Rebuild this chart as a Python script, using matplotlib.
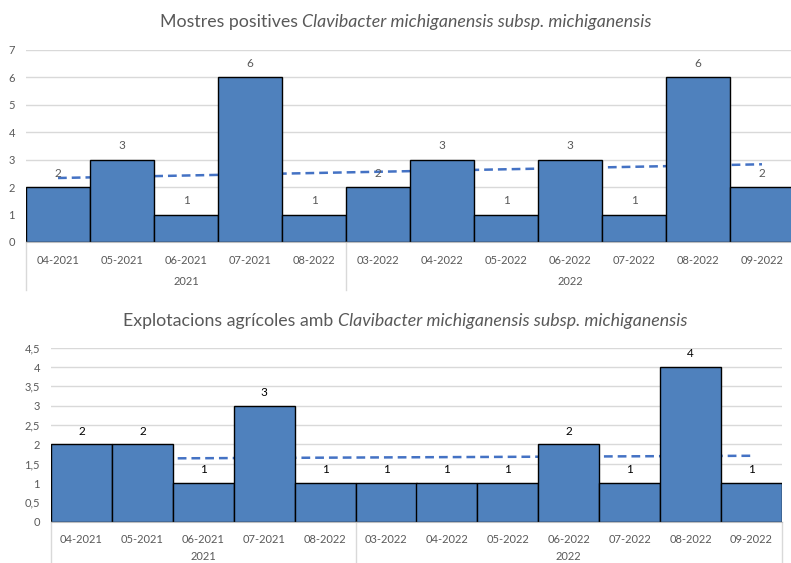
import matplotlib
matplotlib.use("Agg")
import matplotlib.pyplot as plt
import numpy as np

plt.rcParams['font.family'] = ['Lato', 'DejaVu Sans']

# data
months = ['04-2021', '05-2021', '06-2021', '07-2021', '08-2022',
          '03-2022', '04-2022', '05-2022', '06-2022', '07-2022', '08-2022', '09-2022']
years = ['2021', '2022']
year_sizes = [5, 7]
mostres = [2, 3, 1, 6, 1, 2, 3, 1, 3, 1, 6, 2]
explotacions = [2, 2, 1, 3, 1, 1, 1, 1, 2, 1, 4, 1]

bar_color = '#4F81BD'
grid_color = '#D9D9D9'
text_gray = '#595959'

fig = plt.figure(figsize=(7.91, 5.63), dpi=100)
ax1 = fig.add_axes([26/791, 321/563, 768/791, 192/563])
ax2 = fig.add_axes([51/791, 41.3/563, 731/791, 174/563])


def draw(ax, vals, ymax, ystep, label_color, sep_depth, year_y, tick_fmt):
    x = np.arange(len(vals))
    # linear trend line (behind bars)
    k, b = np.polyfit(x, vals, 1)
    ax.plot(x, k * x + b, color='#4472C4', ls=(0, (3.5, 2)), lw=1.8, zorder=1)
    ax.bar(x, vals, width=1.0, color=bar_color, edgecolor='black', lw=1.0, zorder=2)
    for xi, v in zip(x, vals):
        ax.text(xi, v + ymax * 0.045, str(v), ha='center', va='bottom',
                fontsize=8.5, color=label_color, zorder=3)
    ax.set_xlim(-0.5, len(vals) - 0.5)
    ax.set_ylim(0, ymax)
    yt = np.arange(0, ymax + 0.001, ystep)
    ax.set_yticks(yt)
    ax.set_yticklabels([tick_fmt(v) for v in yt])
    ax.yaxis.grid(True, color=grid_color, lw=1)
    ax.set_axisbelow(True)
    for s in ['top', 'right', 'left']:
        ax.spines[s].set_visible(False)
    ax.spines['bottom'].set_color('#BFBFBF')
    ax.set_xticks(x)
    ax.set_xticklabels(months)
    ax.tick_params(axis='both', length=0, labelsize=8, labelcolor=text_gray)
    ax.tick_params(axis='x', pad=9)
    ax.tick_params(axis='y', pad=8)
    # group separators and year labels
    trans = ax.get_xaxis_transform()
    edges = np.concatenate([[0], np.cumsum(year_sizes)]) - 0.5
    for e in edges:
        ax.plot([e, e], [0, -sep_depth], color='#D9D9D9', lw=1,
                transform=trans, clip_on=False)
    for i, yr in enumerate(years):
        ax.text((edges[i] + edges[i + 1]) / 2, year_y, yr, transform=trans,
                ha='center', va='center', fontsize=8, color=text_gray)


draw(ax1, mostres, 7, 1, text_gray, 0.25, -0.205, lambda v: '%d' % v)
draw(ax2, explotacions, 4.5, 0.5, 'black', 0.3, -0.2,
     lambda v: ('%g' % v).replace('.', ','))


def title(y, normal, italic):
    r = fig.canvas.get_renderer()
    t1 = fig.text(0, y, normal, fontsize=12.8, color=text_gray, va='center')
    t2 = fig.text(0, y, italic, fontsize=12.8, color=text_gray, va='center',
                  style='italic')
    w1 = t1.get_window_extent(r).width
    w2 = t2.get_window_extent(r).width
    x0 = (fig.bbox.width - (w1 + w2)) / 2 + 10
    t1.set_x(x0 / fig.bbox.width)
    t2.set_x((x0 + w1) / fig.bbox.width)


title(1 - 22/563, 'Mostres positives ', 'Clavibacter michiganensis subsp. michiganensis')
title(1 - 321/563, 'Explotacions agrícoles amb ',
      'Clavibacter michiganensis subsp. michiganensis')

fig.savefig('out.png', dpi=100)
